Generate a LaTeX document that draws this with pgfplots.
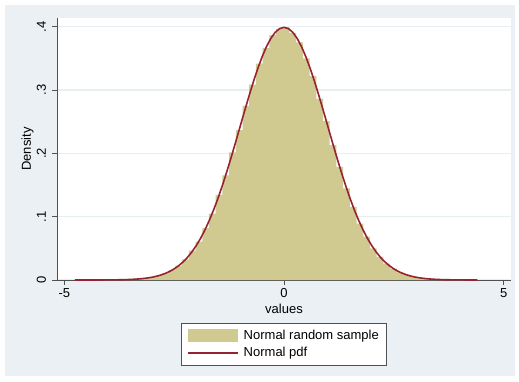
\documentclass[border=0pt]{standalone}
\usepackage{pgfplots}
\pgfplotsset{compat=1.18}
\usepackage{fontspec}
\setmainfont{Liberation Sans}
\definecolor{bgc}{HTML}{EAF0F3}
\definecolor{barc}{HTML}{D1CA90}
\definecolor{linec}{HTML}{962332}
\definecolor{axc}{HTML}{505050}
\definecolor{gridc}{HTML}{E8EFF2}
\begin{document}
\begin{tikzpicture}
\fill[white] (0pt,0pt) rectangle (519pt,381pt);
\fill[bgc] (5pt,5pt) rectangle (515pt,376pt);
\begin{axis}[
  at={(57pt,101pt)}, anchor=south west,
  scale only axis, width=454pt, height=262pt,
  xmin=-5.166, xmax=5.166, ymin=0, ymax=0.4137,
  axis background/.style={fill=white},
  axis lines*=left,
  axis line style={-, axc, line width=0.8pt},
  tick align=outside, major tick length=5pt,
  tick style={axc, line width=0.8pt},
  xtick={-5,0,5}, xticklabels={-5,0,5},
  ytick={0,0.1,0.2,0.3,0.4}, yticklabels={0,.1,.2,.3,.4},
  ymajorgrids, grid style={gridc, line width=1.2pt},
  ticklabel style={font=\fontsize{13}{13}\selectfont},
  yticklabel style={rotate=90, anchor=base},
  yticklabel shift=6pt,
  xlabel={values}, ylabel={Density},
  label style={font=\fontsize{13}{13}\selectfont},
  xlabel style={at={(axis description cs:0.5,-0.126)}, anchor=base},
  ylabel style={at={(axis description cs:-0.0573,0.5)}, anchor=base, rotate=0},
  legend style={at={(0.5,-0.1641)}, anchor=north, draw=axc, line width=0.8pt,
    fill=white, font=\fontsize{13}{15}\selectfont, row sep=2pt, column sep=3pt,
    inner xsep=6pt, inner ysep=5pt},
  legend cell align=left,
]
\addplot[ybar interval, fill=barc, draw=none,
  legend image code/.code={\fill[barc] (0pt,-6.5pt) rectangle (50pt,6.5pt);}]
coordinates {
(-4.760,0.00001) (-4.607,0.00002) (-4.455,0.00003) (-4.302,0.00005)
(-4.149,0.00010) (-3.997,0.00018) (-3.844,0.00034) (-3.691,0.00057)
(-3.539,0.00100) (-3.386,0.00168) (-3.233,0.00272) (-3.081,0.00441)
(-2.928,0.00680) (-2.775,0.01050) (-2.623,0.01555) (-2.470,0.02280)
(-2.317,0.03250) (-2.165,0.04620) (-2.012,0.06050) (-1.859,0.08210)
(-1.707,0.10480) (-1.554,0.13450) (-1.401,0.16520) (-1.249,0.20140)
(-1.096,0.23650) (-0.943,0.27480) (-0.791,0.30850) (-0.638,0.34150)
(-0.485,0.36620) (-0.333,0.38680) (-0.180,0.39610) (-0.027,0.39920)
(0.125,0.39030) (0.278,0.37520) (0.431,0.35000) (0.583,0.32180)
(0.736,0.28610) (0.889,0.25100) (1.041,0.21300) (1.194,0.17850)
(1.347,0.14450) (1.499,0.11560) (1.652,0.08920) (1.805,0.06830)
(1.957,0.05010) (2.110,0.03660) (2.263,0.02580) (2.415,0.01800)
(2.568,0.01200) (2.721,0.00800) (2.873,0.00510) (3.026,0.00325)
(3.179,0.00198) (3.331,0.00121) (3.484,0.00070) (3.637,0.00040)
(3.789,0.00023) (3.942,0.00012) (4.095,0.00007) (4.247,0.00003)
(4.400,0.00003)
};
\addlegendentry{Normal random sample\hspace{8pt}}
\addplot[linec, line width=1.6pt, line join=round,
  legend image code/.code={\draw[linec, line width=1.6pt] (0pt,0pt) -- (50pt,0pt);}]
coordinates {
(-4.76,0.00001) (-4.7,0.00001) (-4.6,0.00001) (-4.5,0.00002) (-4.4,0.00002)
(-4.3,0.00004) (-4.2,0.00006) (-4.1,0.00009) (-4.0,0.00013) (-3.9,0.00020)
(-3.8,0.00029) (-3.7,0.00042) (-3.6,0.00061) (-3.5,0.00087) (-3.4,0.00123)
(-3.3,0.00172) (-3.2,0.00238) (-3.1,0.00327) (-3.0,0.00443) (-2.9,0.00595)
(-2.8,0.00792) (-2.7,0.01042) (-2.6,0.01358) (-2.5,0.01753) (-2.4,0.02239)
(-2.3,0.02833) (-2.2,0.03547) (-2.1,0.04398) (-2.0,0.05399) (-1.9,0.06562)
(-1.8,0.07895) (-1.7,0.09405) (-1.6,0.11092) (-1.5,0.12952) (-1.4,0.14973)
(-1.3,0.17137) (-1.2,0.19419) (-1.1,0.21785) (-1.0,0.24197) (-0.9,0.26609)
(-0.8,0.28969) (-0.7,0.31225) (-0.6,0.33322) (-0.5,0.35207) (-0.4,0.36827)
(-0.3,0.38139) (-0.2,0.39104) (-0.1,0.39695) (0.0,0.39894)
(0.1,0.39695) (0.2,0.39104) (0.3,0.38139) (0.4,0.36827) (0.5,0.35207)
(0.6,0.33322) (0.7,0.31225) (0.8,0.28969) (0.9,0.26609) (1.0,0.24197)
(1.1,0.21785) (1.2,0.19419) (1.3,0.17137) (1.4,0.14973) (1.5,0.12952)
(1.6,0.11092) (1.7,0.09405) (1.8,0.07895) (1.9,0.06562) (2.0,0.05399)
(2.1,0.04398) (2.2,0.03547) (2.3,0.02833) (2.4,0.02239) (2.5,0.01753)
(2.6,0.01358) (2.7,0.01042) (2.8,0.00792) (2.9,0.00595) (3.0,0.00443)
(3.1,0.00327) (3.2,0.00238) (3.3,0.00172) (3.4,0.00123) (3.5,0.00087)
(3.6,0.00061) (3.7,0.00042) (3.8,0.00029) (3.9,0.00020) (4.0,0.00013)
(4.1,0.00009) (4.2,0.00006) (4.3,0.00004) (4.4,0.00002)
};
\addlegendentry{Normal pdf}
\end{axis}
\end{tikzpicture}
\end{document}
